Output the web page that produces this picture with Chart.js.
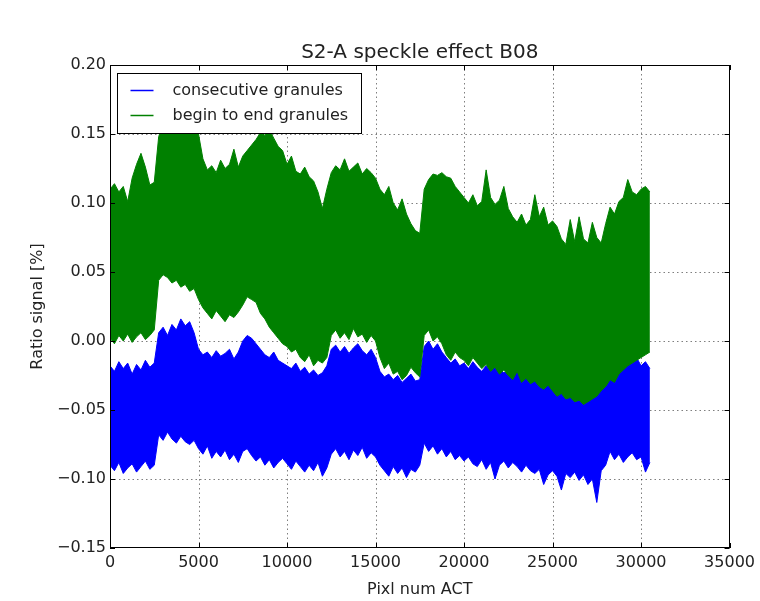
<!DOCTYPE html>
<html>
<head>
<meta charset="utf-8">
<script src="https://cdn.jsdelivr.net/npm/chart.js@4/dist/chart.umd.min.js"></script>
<style>
html,body{margin:0;padding:0;background:#fff;}
#wrap{width:760px;height:601px;}
</style>
</head>
<body>
<div id="wrap"><canvas id="c" width="760" height="601"></canvas></div>
<script>
// ---- text ----
const chartTitle = 'S2-A speckle effect B08';
const xAxisLabel = 'Pixl num ACT';
const yAxisLabel = 'Ratio signal [%]';
const seriesNames = ['consecutive granules', 'begin to end granules'];
const seriesColors = ['#0000ff', '#008000'];

// ---- ticks ----
const xTicks = [0, 5000, 10000, 15000, 20000, 25000, 30000, 35000];
const yTicks = [-0.15, -0.10, -0.05, 0.00, 0.05, 0.10, 0.15, 0.20];

// ---- sampling of the pixel axis (envelope read every 250 pixels) ----
const sampleStart = 0;
const sampleStep = 250;

// ---- "consecutive granules" (blue): upper / lower envelope of the signal ----
const blueHigh = [
 -0.018,-0.022,-0.015,-0.020,-0.016,-0.024,-0.017,-0.021,-0.014,-0.019,
 -0.016, 0.006, 0.010, 0.004, 0.012, 0.008, 0.016, 0.011, 0.014, 0.006,
 -0.006,-0.010,-0.008,-0.012,-0.007,-0.011,-0.009,-0.006,-0.013,-0.008,
  0.000, 0.004, 0.002,-0.002,-0.006,-0.010,-0.012,-0.008,-0.014,-0.016,
 -0.018,-0.020,-0.016,-0.022,-0.019,-0.024,-0.021,-0.025,-0.023,-0.018,
 -0.006,-0.003,-0.008,-0.004,-0.009,-0.005,-0.002,-0.007,-0.010,-0.006,
 -0.012,-0.022,-0.026,-0.024,-0.028,-0.025,-0.030,-0.027,-0.024,-0.029,
 -0.028,-0.004, 0.000,-0.006,-0.002,-0.008,-0.012,-0.016,-0.013,-0.018,
 -0.016,-0.020,-0.015,-0.019,-0.022,-0.018,-0.021,-0.017,-0.020,-0.023,
 -0.022,-0.025,-0.020,-0.026,-0.023,-0.027,-0.024,-0.028,-0.026,-0.025,
 -0.030,-0.033,-0.031,-0.036,-0.034,-0.038,-0.035,-0.039,-0.037,-0.034,
 -0.032,-0.024,-0.020,-0.016,-0.019,-0.014,-0.017,-0.013,-0.016,-0.012,
 -0.018,-0.015,-0.020
];
const blueLow = [
 -0.090,-0.094,-0.088,-0.096,-0.092,-0.089,-0.095,-0.091,-0.087,-0.093,
 -0.090,-0.068,-0.072,-0.066,-0.071,-0.074,-0.069,-0.073,-0.075,-0.072,
 -0.078,-0.082,-0.076,-0.085,-0.080,-0.084,-0.079,-0.086,-0.082,-0.088,
 -0.080,-0.078,-0.083,-0.087,-0.084,-0.090,-0.086,-0.092,-0.088,-0.085,
 -0.089,-0.093,-0.087,-0.091,-0.095,-0.090,-0.094,-0.088,-0.098,-0.092,
 -0.082,-0.078,-0.084,-0.080,-0.086,-0.079,-0.083,-0.077,-0.085,-0.081,
 -0.084,-0.090,-0.094,-0.098,-0.091,-0.096,-0.092,-0.099,-0.093,-0.095,
 -0.090,-0.074,-0.080,-0.076,-0.082,-0.078,-0.084,-0.080,-0.086,-0.083,
 -0.087,-0.084,-0.089,-0.091,-0.086,-0.093,-0.088,-0.100,-0.090,-0.087,
 -0.092,-0.088,-0.091,-0.095,-0.090,-0.094,-0.096,-0.093,-0.104,-0.097,
 -0.094,-0.098,-0.108,-0.096,-0.099,-0.095,-0.101,-0.097,-0.104,-0.100,
 -0.117,-0.094,-0.090,-0.080,-0.086,-0.082,-0.088,-0.084,-0.081,-0.086,
 -0.084,-0.095,-0.088
];

// ---- "begin to end granules" (green): upper / lower envelope of the signal ----
const greenHigh = [
 0.110, 0.114, 0.108, 0.112, 0.101, 0.118, 0.128, 0.136, 0.126, 0.113,
 0.115, 0.148, 0.158, 0.160, 0.156, 0.162, 0.158, 0.155, 0.160, 0.157,
 0.150, 0.132, 0.124, 0.127, 0.122, 0.131, 0.125, 0.128, 0.139, 0.126,
 0.134, 0.138, 0.142, 0.146, 0.151, 0.149, 0.153, 0.147, 0.141, 0.138,
 0.128, 0.134, 0.123, 0.121, 0.126, 0.119, 0.116, 0.108, 0.096, 0.110,
 0.122, 0.127, 0.124, 0.132, 0.123, 0.126, 0.129, 0.121, 0.125, 0.122,
 0.118, 0.110, 0.106, 0.112, 0.100, 0.095, 0.103, 0.092, 0.085, 0.080,
 0.078, 0.110, 0.117, 0.121, 0.120, 0.122, 0.119, 0.118, 0.112, 0.108,
 0.104, 0.100, 0.106, 0.098, 0.101, 0.124, 0.104, 0.099, 0.102, 0.112,
 0.096, 0.090, 0.086, 0.092, 0.084, 0.088, 0.106, 0.090, 0.097, 0.084,
 0.087, 0.083, 0.074, 0.070, 0.088, 0.072, 0.090, 0.074, 0.071, 0.086,
 0.075, 0.071, 0.085, 0.097, 0.092, 0.101, 0.104, 0.117, 0.108, 0.106,
 0.110, 0.112, 0.108
];
const greenLow = [
  0.002,-0.002, 0.004, 0.000, 0.005,-0.001, 0.003, 0.006, 0.001, 0.004,
  0.008, 0.044, 0.048, 0.046, 0.042, 0.044, 0.039, 0.041, 0.036, 0.038,
  0.030, 0.024, 0.020, 0.016, 0.022, 0.018, 0.014, 0.019, 0.017, 0.021,
  0.026, 0.032, 0.030, 0.028, 0.020, 0.016, 0.010, 0.006, 0.002,-0.002,
 -0.004,-0.008,-0.006,-0.012,-0.015,-0.010,-0.018,-0.014,-0.016,-0.012,
  0.004, 0.008, 0.002, 0.006, 0.001, 0.009, 0.003, 0.005,-0.001, 0.004,
  0.000,-0.012,-0.020,-0.016,-0.024,-0.022,-0.028,-0.025,-0.019,-0.023,
 -0.026, 0.004, 0.008, 0.000, 0.003,-0.002,-0.010,-0.014,-0.008,-0.012,
 -0.014,-0.018,-0.012,-0.016,-0.020,-0.017,-0.022,-0.019,-0.024,-0.021,
 -0.025,-0.028,-0.022,-0.030,-0.027,-0.031,-0.029,-0.033,-0.035,-0.032,
 -0.036,-0.040,-0.038,-0.042,-0.041,-0.044,-0.043,-0.046,-0.044,-0.042,
 -0.040,-0.036,-0.033,-0.028,-0.030,-0.024,-0.021,-0.018,-0.016,-0.014,
 -0.012,-0.010,-0.008
];

// ---- build chart points from the arrays ----
const toPoints = arr => arr.map((v, i) => ({ x: sampleStart + i * sampleStep, y: v }));

const FONT = '"DejaVu Sans", "Liberation Sans", sans-serif';
const TEXT = '#222';

const decor = {
  id: 'decor',
  beforeDatasetsDraw(chart) {
    const { ctx, chartArea: a, scales: { x, y } } = chart;
    ctx.save();
    ctx.strokeStyle = 'rgba(0,0,0,0.5)';
    ctx.lineWidth = 1;
    ctx.setLineDash([1.5, 3]);
    xTicks.forEach(v => {
      const px = Math.round(x.getPixelForValue(v)) + 0.5;
      if (px <= a.left + 1 || px >= a.right - 1) return;
      ctx.beginPath(); ctx.moveTo(px, a.top); ctx.lineTo(px, a.bottom); ctx.stroke();
    });
    yTicks.forEach(v => {
      const py = Math.round(y.getPixelForValue(v)) + 0.5;
      if (py <= a.top + 1 || py >= a.bottom - 1) return;
      ctx.beginPath(); ctx.moveTo(a.left, py); ctx.lineTo(a.right, py); ctx.stroke();
    });
    ctx.restore();
  },
  afterDatasetsDraw(chart) {
    const { ctx, chartArea: a, scales: { x, y } } = chart;
    ctx.save();
    ctx.setLineDash([]);
    ctx.strokeStyle = '#000';
    ctx.lineWidth = 1;
    // inward tick marks on all four sides
    const tl = 5;
    xTicks.forEach(v => {
      const px = Math.round(x.getPixelForValue(v)) + 0.5;
      ctx.beginPath();
      ctx.moveTo(px, a.bottom); ctx.lineTo(px, a.bottom - tl);
      ctx.moveTo(px, a.top); ctx.lineTo(px, a.top + tl);
      ctx.stroke();
    });
    yTicks.forEach(v => {
      const py = Math.round(y.getPixelForValue(v)) + 0.5;
      ctx.beginPath();
      ctx.moveTo(a.left, py); ctx.lineTo(a.left + tl, py);
      ctx.moveTo(a.right, py); ctx.lineTo(a.right - tl, py);
      ctx.stroke();
    });
    // frame
    ctx.strokeRect(Math.round(a.left) + 0.5, Math.round(a.top) + 0.5,
                   Math.round(a.right - a.left) - 1, Math.round(a.bottom - a.top) - 1);
    // legend box
    const lx = Math.round(a.left) + 7.5, ly = Math.round(a.top) + 8.5, lw = 244, lh = 60;
    ctx.fillStyle = '#fff';
    ctx.fillRect(lx, ly, lw, lh);
    ctx.strokeStyle = '#000';
    ctx.strokeRect(lx, ly, lw, lh);
    ctx.font = '16px ' + FONT;
    ctx.textBaseline = 'middle';
    ctx.textAlign = 'left';
    seriesNames.forEach((name, i) => {
      const cy = ly + 17 + i * 25;
      ctx.strokeStyle = seriesColors[i];
      ctx.lineWidth = 1.5;
      ctx.beginPath(); ctx.moveTo(lx + 13, cy); ctx.lineTo(lx + 36, cy); ctx.stroke();
      ctx.fillStyle = TEXT;
      ctx.fillText(name, lx + 55, cy);
    });
    ctx.restore();
  }
};

new Chart(document.getElementById('c'), {
  type: 'line',
  data: {
    datasets: [
      { label: seriesNames[0] + ' (max)', data: toPoints(blueHigh), borderColor: seriesColors[0],
        backgroundColor: seriesColors[0], borderWidth: 1, pointRadius: 0, fill: '+1', order: 4 },
      { label: seriesNames[0] + ' (min)', data: toPoints(blueLow), borderColor: seriesColors[0],
        backgroundColor: seriesColors[0], borderWidth: 1, pointRadius: 0, fill: false, order: 3 },
      { label: seriesNames[1] + ' (max)', data: toPoints(greenHigh), borderColor: seriesColors[1],
        backgroundColor: seriesColors[1], borderWidth: 1, pointRadius: 0, fill: '+1', order: 2 },
      { label: seriesNames[1] + ' (min)', data: toPoints(greenLow), borderColor: seriesColors[1],
        backgroundColor: seriesColors[1], borderWidth: 1, pointRadius: 0, fill: false, order: 1 }
    ]
  },
  options: {
    responsive: false,
    animation: false,
    events: [],
    layout: { padding: { left: 0, right: 28, top: 0, bottom: 0 } },
    elements: { line: { tension: 0 } },
    plugins: {
      legend: { display: false },
      tooltip: { enabled: false },
      title: {
        display: true, text: chartTitle, color: TEXT, fullSize: false,
        font: { family: FONT, size: 20, weight: 'normal' },
        padding: { top: 41, bottom: 0 }
      }
    },
    scales: {
      x: {
        type: 'linear', min: 0, max: 35000,
        afterBuildTicks: s => { s.ticks = xTicks.map(v => ({ value: v })); },
        afterFit: s => { s.height = 53; },
        ticks: { color: TEXT, font: { family: FONT, size: 16 }, padding: 5, maxRotation: 0,
                 callback: v => String(v) },
        grid: { display: false, drawTicks: false },
        border: { display: false },
        title: { display: true, text: xAxisLabel, color: TEXT,
                 font: { family: FONT, size: 16 }, padding: { top: 0, bottom: 2 } }
      },
      y: {
        type: 'linear', min: -0.15, max: 0.20,
        afterBuildTicks: s => { s.ticks = yTicks.map(v => ({ value: v })); },
        afterFit: s => { s.width = 110; },
        ticks: { color: TEXT, font: { family: FONT, size: 16 }, padding: 4,
                 callback: v => (Math.abs(v) < 1e-9 ? '0.00' : v.toFixed(2).replace('-', '\u2212')) },
        grid: { display: false, drawTicks: false },
        border: { display: false },
        title: { display: true, text: yAxisLabel, color: TEXT,
                 font: { family: FONT, size: 16 }, padding: { top: 28, bottom: 0 } }
      }
    }
  },
  plugins: [decor]
});
</script>
</body>
</html>
